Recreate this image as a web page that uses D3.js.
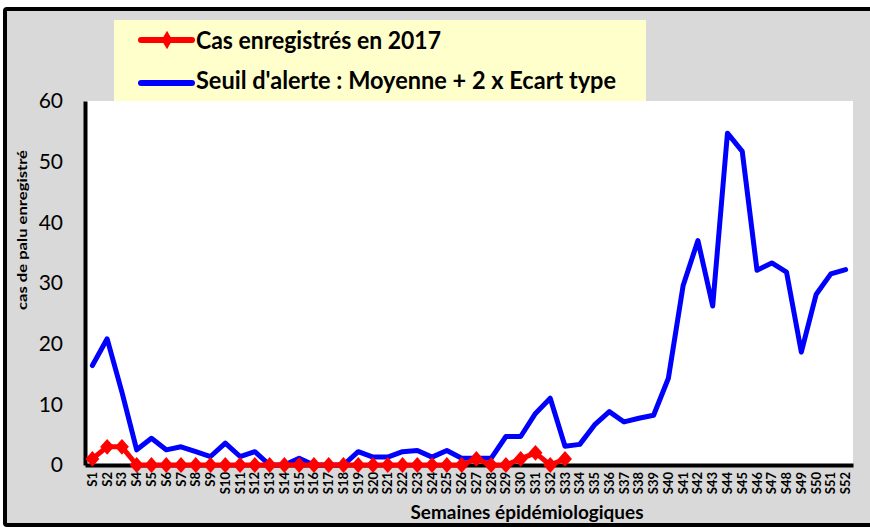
<!DOCTYPE html>
<html><head><meta charset="utf-8">
<script src="https://cdn.jsdelivr.net/npm/d3@7"></script>
<style>body{margin:0;background:#fff}svg{display:block}</style>
</head><body>
<script>
const weeks = Array.from({length:52},(_,i)=>"S"+(i+1));
const seuil = [16.4,20.8,12,2.5,4.4,2.5,3.0,2.2,1.4,3.6,1.4,2.2,0,0,1.1,0,0,0,2.2,1.3,1.3,2.2,2.4,1.3,2.4,1.1,1.1,1.1,4.7,4.7,8.5,11.0,3.1,3.4,6.6,8.8,7.1,7.7,8.2,14.3,29.6,37.0,26.2,54.7,51.7,32.1,33.3,31.8,18.6,28.1,31.5,32.2];
const cas2017 = [1,3,3,0,0,0,0,0,0,0,0,0,0,0,0,0,0,0,0,0,0,0,0,0,0,0,1,0,0,1,2,0,1];
const yTicks = [0,10,20,30,40,50,60];
const legendLabels = ["Cas enregistrés en 2017","Seuil d'alerte : Moyenne + 2 x Ecart type"];
const yTitle = "cas de palu enregistré";
const xTitle = "Semaines épidémiologiques";

const W=870,H=527;
const svg=d3.select("body").append("svg").attr("width",W).attr("height",H);
svg.append("rect").attr("width",W).attr("height",H).attr("fill","#fff");
svg.append("rect").attr("x",5).attr("y",9).attr("width",W+10).attr("height",516)
  .attr("fill","#d9d9d9").attr("stroke","#000").attr("stroke-width",4).attr("rx",2);

const L=85,R=853,T=101,B=465;
svg.append("rect").attr("x",L).attr("y",T).attr("width",R-L).attr("height",B-T).attr("fill","#fff");

const x=d3.scaleBand().domain(weeks).range([L,R]);
const y=d3.scaleLinear().domain([0,60]).range([B,T]);
const cx=d=>x(d)+x.bandwidth()/2;
const font="Lato, 'Open Sans', sans-serif";

// y axis
const ya=svg.append("g").attr("transform",`translate(${L},0)`)
  .call(d3.axisLeft(y).tickValues(yTicks).tickSize(0).tickPadding(22));
ya.select(".domain").attr("stroke","#000").attr("stroke-width",4);
ya.selectAll("text").attr("font-family",font).attr("font-size",21).attr("fill","#000");

// x axis
const xa=svg.append("g").attr("transform",`translate(0,${B})`)
  .call(d3.axisBottom(x).tickSize(0).tickPadding(0));
xa.select(".domain").attr("stroke","#000").attr("stroke-width",4);
xa.selectAll("text").attr("font-family",font).attr("font-size",13).attr("font-weight","bold").attr("fill","#000")
  .attr("transform","rotate(-90)").attr("text-anchor","end").attr("dy","0.35em").attr("x",-7).attr("y",0);

// blue line
const line=d3.line().x((d,i)=>cx(weeks[i])).y(d=>y(d));
svg.append("path").datum(seuil).attr("d",line).attr("fill","none")
  .attr("stroke","#0000ff").attr("stroke-width",5).attr("stroke-linejoin","round").attr("stroke-linecap","round");
// red line
svg.append("path").datum(cas2017).attr("d",line).attr("fill","none")
  .attr("stroke","#ff0000").attr("stroke-width",5).attr("stroke-linejoin","round");
const diamond=d3.symbol().type(d3.symbolDiamond).size(100);
svg.selectAll(".m").data(cas2017).enter().append("path")
  .attr("d",diamond).attr("fill","#ff0000")
  .attr("transform",(d,i)=>`translate(${cx(weeks[i])},${y(d)}) scale(1.3,0.85)`);

// axis titles
svg.append("text").attr("transform",`translate(22,230) rotate(-90)`).attr("text-anchor","middle")
  .attr("font-family",font).attr("font-weight","bold").attr("font-size",14).attr("dy","0.35em")
  .attr("textLength",160).attr("lengthAdjust","spacingAndGlyphs").text(yTitle);
svg.append("text").attr("x",527).attr("y",519).attr("text-anchor","middle")
  .attr("font-family",font).attr("font-weight","bold").attr("font-size",18)
  .attr("textLength",233).attr("lengthAdjust","spacingAndGlyphs").text(xTitle);

// legend
svg.append("rect").attr("x",114).attr("y",20).attr("width",532).attr("height",81).attr("fill","#ffffcc");
const colors=["#ff0000","#0000ff"];
const lgY=[40,83];
const lgBase=[49,89];
const lgW=[245,420];
legendLabels.forEach((t,i)=>{
  svg.append("line").attr("x1",141).attr("x2",192).attr("y1",lgY[i]).attr("y2",lgY[i])
    .attr("stroke",colors[i]).attr("stroke-width",6).attr("stroke-linecap","round");
  if(i===0) svg.append("path").attr("d",diamond).attr("fill",colors[i])
    .attr("transform",`translate(167,${lgY[i]}) scale(1.0,1.0)`);
  svg.append("text").attr("x",196).attr("y",lgBase[i])
    .attr("font-family",font).attr("font-weight","bold").attr("font-size",24)
    .attr("textLength",lgW[i]).attr("lengthAdjust","spacingAndGlyphs").text(t);
});
</script>
</body></html>
